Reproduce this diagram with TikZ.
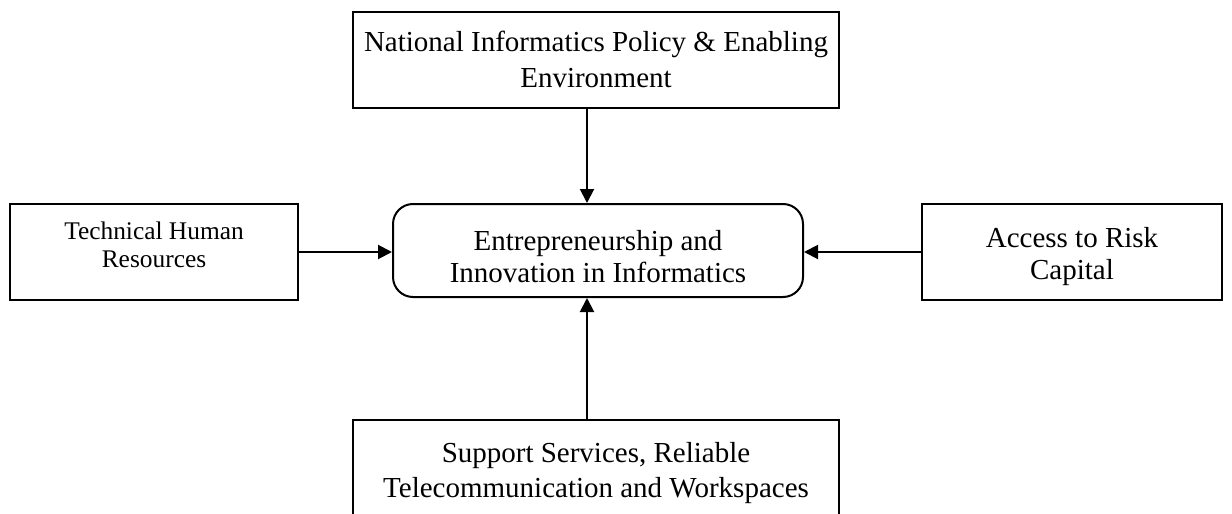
\documentclass[tikz,border=0pt]{standalone}
\usepackage{fontspec}
\setmainfont{Liberation Serif}
\usetikzlibrary{arrows.meta}
\newcommand{\boxtext}[2]{\raisebox{#1}[0pt][0pt]{\begin{tabular}{@{}c@{}}#2\end{tabular}}}
\tikzset{
  box/.style={draw=black, line width=1pt, align=center, inner sep=0pt,
    font=\fontsize{14.5pt}{17pt}\selectfont},
  smallbox/.style={box, font=\fontsize{12.7pt}{14pt}\selectfont},
  centerbox/.style={box, rounded corners=10pt},
  arr/.style={line width=1pt, -{Triangle[length=7pt,width=7pt]}}
}
\begin{document}
\begin{tikzpicture}[x=0.5pt,y=-0.5pt]
\clip (0,0) rectangle (1232,514);
\fill[white] (0,0) rectangle (1232,514);
\node[box, font=\fontsize{14.5pt}{18pt}\selectfont, minimum width=243pt, minimum height=48pt] (top) at (596,60)
  {\boxtext{-4.85pt}{National Informatics Policy \& Enabling\\Environment}};
\node[smallbox, minimum width=144pt, minimum height=48pt] (left) at (154,252)
  {\boxtext{-0.7pt}{Technical Human\\Resources}};
\node[centerbox, font=\fontsize{14.5pt}{16pt}\selectfont, minimum width=205pt, minimum height=46.5pt] (center) at (598,250.5)
  {\boxtext{-8.35pt}{Entrepreneurship and\\Innovation in Informatics}};
\node[box, font=\fontsize{14.5pt}{16pt}\selectfont, minimum width=150pt, minimum height=48pt] (right) at (1072,252)
  {\boxtext{-6.35pt}{Access to Risk\\Capital}};
\node[box, font=\fontsize{14.5pt}{17.5pt}\selectfont, minimum width=243pt, minimum height=56pt] (bottom) at (596,476)
  {\boxtext{-1.85pt}{Support Services, Reliable\\Telecommunication and Workspaces}};
\draw[arr] (top.south -| 587,0) -- (center.north -| 587,0);
\draw[arr] (left.east |- 0,252) -- (center.west |- 0,252);
\draw[arr] (right.west |- 0,252) -- (center.east |- 0,252);
\draw[arr] (bottom.north -| 587,0) -- (center.south -| 587,0);
\end{tikzpicture}
\end{document}
